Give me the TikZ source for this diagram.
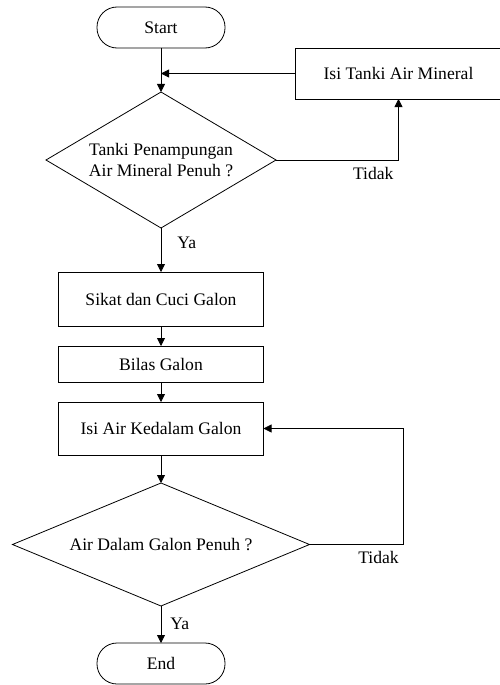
\documentclass[tikz,border=0pt]{standalone}
\usepackage{fontspec}
\setmainfont{Liberation Serif}
\usepackage{tikz}
\usetikzlibrary{positioning, arrows.meta, shapes.geometric}
\tikzset{
  terminal/.style={draw, line width=0.8pt, rounded corners=20pt, align=center, minimum width=128pt, minimum height=41pt, inner sep=0pt, outer sep=0pt},
  process/.style={draw, line width=0.8pt, align=center, minimum width=205pt, inner sep=0pt, outer sep=0pt},
  decision/.style={draw, diamond, line width=0.8pt, align=center, inner sep=0pt, outer sep=0pt},
  arrow/.style={-{Triangle[length=8pt, width=8pt]}, line width=0.8pt},
  label/.style={inner sep=0pt, anchor=west},
}

\begin{document}
\begin{tikzpicture}[x=1pt, y=1pt, font=\fontsize{17.6}{21}\selectfont]
  \useasboundingbox (0,0) rectangle (499,-685);
  % Main column
  \node[terminal] (start) at (161,-27.5) {Start};
  \node[decision, below=44pt of start, minimum width=230pt, minimum height=136pt, aspect=1.7] (cek1) {Tanki Penampungan\\Air Mineral Penuh ?};
  \node[process, below=44pt of cek1, minimum height=54pt] (sikat) {Sikat dan Cuci Galon};
  \node[process, below=20pt of sikat, minimum height=36pt] (bilas) {Bilas Galon};
  \node[process, below=20pt of bilas, minimum height=53pt] (isiair) {Isi Air Kedalam Galon};
  \node[decision, below=28pt of isiair, minimum width=297pt, minimum height=123pt, aspect=2.4] (cek2) {Air Dalam Galon Penuh ?};
  \node[terminal, below=37pt of cek2] (stop) {End};

  % Side box, its right edge runs off the page
  \node[process, minimum width=206pt, minimum height=51pt] (tanki) at (398.5,-73.5) {Isi Tanki Air Mineral};

  \draw[arrow] (start) -- (cek1);
  \draw[arrow] (tanki.west) -- (tanki.west -| start.south);
  \draw[arrow] (cek1.east) -- node[label, below=7pt, anchor=north, xshift=36pt] {Tidak} (cek1.east -| tanki.south) -- (tanki.south);
  \draw[arrow] (cek1) -- node[label, pos=0.33, xshift=16pt] {Ya} (sikat);
  \draw[arrow] (sikat) -- (bilas);
  \draw[arrow] (bilas) -- (isiair);
  \draw[arrow] (isiair) -- (cek2);
  \draw[arrow] (cek2.east) -- node[label, below=6pt, anchor=north, xshift=22pt] {Tidak} ++(94pt,0) |- (isiair.east);
  \draw[arrow] (cek2) -- node[label, pos=0.48, xshift=9pt] {Ya} (stop);
\end{tikzpicture}
\end{document}
